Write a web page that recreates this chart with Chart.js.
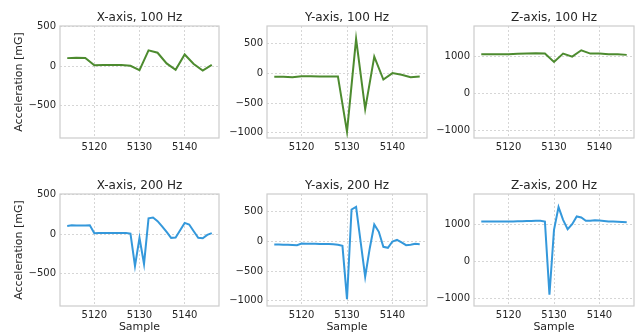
<!DOCTYPE html>
<html>
<head>
<meta charset="utf-8">
<script src="https://cdn.jsdelivr.net/npm/chart.js@4.4.0/dist/chart.umd.min.js"></script>
<style>
  body { margin: 0; background: #fff; }
  #wrap { position: relative; width: 642px; height: 336px; overflow: hidden; }
  canvas { position: absolute; }
</style>
</head>
<body>
<div id="wrap">
  <canvas id="c1"></canvas>
  <canvas id="c2"></canvas>
  <canvas id="c3"></canvas>
  <canvas id="c4"></canvas>
  <canvas id="c5"></canvas>
  <canvas id="c6"></canvas>
</div>
<script>
// sample numbers
const samples100 = [5114, 5116, 5118, 5120, 5122, 5124, 5126, 5128, 5130, 5132, 5134, 5136, 5138, 5140, 5142, 5144, 5146];
const samples200 = [5114, 5115, 5116, 5117, 5118, 5119, 5120, 5121, 5122, 5123, 5124, 5125, 5126, 5127, 5128, 5129, 5130,
                    5131, 5132, 5133, 5134, 5135, 5136, 5137, 5138, 5139, 5140, 5141, 5142, 5143, 5144, 5145, 5146];

// acceleration, mG
const x100 = [102, 106, 104, 13, 14, 15, 15, 6, -50, 200, 170, 35, -45, 148, 28, -55, 17];
const y100 = [-57, -57, -62, -45, -45, -50, -50, -50, -983, 585, -602, 284, -102, 6, -23, -62, -50];
const z100 = [1054, 1054, 1054, 1054, 1063, 1071, 1080, 1071, 848, 1071, 990, 1160, 1071, 1071, 1054, 1054, 1036];

const x200 = [105, 113, 110, 109, 109, 112, 13, 14, 15, 15, 15, 16, 16, 15, 8, -400, -46,
              -375, 200, 210, 165, 100, 29, -46, -42, 50, 143, 122, 38, -46, -50, -8, 13];
const y200 = [-50, -52, -54, -55, -58, -62, -34, -38, -40, -40, -42, -44, -44, -45, -56, -73, -975,
              540, 585, -5, -595, -118, 287, 163, -90, -107, 0, 28, -17, -62, -56, -40, -45];
const z200 = [1072, 1072, 1075, 1075, 1072, 1072, 1072, 1075, 1078, 1080, 1085, 1088, 1090, 1090, 1072, -890, 847,
              1460, 1117, 865, 1000, 1207, 1180, 1090, 1090, 1108, 1099, 1085, 1072, 1072, 1068, 1062, 1054];

const xTicks = [5120, 5130, 5140];
const xRange = [5112.4, 5147.6];
const ticksX = [-500, 0, 500];
const ticksY = [-1000, -500, 0, 500];
const ticksZ = [-1000, 0, 1000];

const green = '#4d8b2f';
const blue = '#3498db';
const txt = '#262626';

Chart.defaults.font.family = 'DejaVu Sans';
Chart.defaults.color = txt;

// box round the plot + title centred over the plot area
const frame = {
  id: 'frame',
  beforeDatasetsDraw(chart, args, opts) {
    const a = chart.chartArea, ctx = chart.ctx;
    ctx.save();
    ctx.strokeStyle = '#cccccc';
    ctx.lineWidth = 1.2;
    ctx.strokeRect(a.left, a.top, a.right - a.left, a.bottom - a.top);
    ctx.fillStyle = txt;
    ctx.font = '12px "DejaVu Sans"';
    ctx.textAlign = 'center';
    ctx.textBaseline = 'middle';
    ctx.fillText(opts.text, (a.left + a.right) / 2, a.top - 8.5);
    ctx.restore();
  }
};

function minus(v) { return String(v).replace('-', '\u2212'); }

function panel(id, pos, title, xs, ys, color, yTicks, yLim, yLabel, xLabel) {
  const el = document.getElementById(id);
  el.style.left = pos[0] + 'px';
  el.style.top = pos[1] + 'px';
  el.width = pos[2];
  el.height = pos[3];
  el.style.width = pos[2] + 'px';
  el.style.height = pos[3] + 'px';
  new Chart(el, {
    type: 'scatter',
    data: {
      datasets: [{
        data: xs.map((s, i) => ({ x: s, y: ys[i] })),
        showLine: true,
        borderColor: color,
        borderWidth: 2,
        pointRadius: 0,
        tension: 0
      }]
    },
    options: {
      responsive: false,
      animation: false,
      layout: { padding: { top: 26, right: 3 } },
      plugins: {
        legend: { display: false },
        tooltip: { enabled: false },
        frame: { text: title }
      },
      scales: {
        x: {
          type: 'linear', min: xRange[0], max: xRange[1],
          afterBuildTicks: s => { s.ticks = xTicks.map(v => ({ value: v })); },
          afterFit: s => { s.height = pos[4]; },
          grid: { color: '#cccccc', lineWidth: 0.8, drawTicks: false },
          border: { display: false, dash: [2, 2] },
          ticks: { font: { size: 10 }, padding: 3, color: txt, callback: v => v },
          title: { display: xLabel, text: 'Sample', font: { size: 11 }, padding: { top: 0, bottom: 2.4 }, color: txt }
        },
        y: {
          min: yLim[0], max: yLim[1],
          afterBuildTicks: s => { s.ticks = yTicks.map(v => ({ value: v })); },
          afterFit: s => { s.width = yLabel ? 60 : 50; },
          grid: { color: '#cccccc', lineWidth: 0.8, drawTicks: false },
          border: { display: false, dash: [2, 2] },
          ticks: { font: { size: 10 }, padding: 4, color: txt, callback: v => minus(v) },
          title: { display: yLabel, text: 'Acceleration [mG]', font: { size: 11 }, padding: { top: 13, bottom: 0 }, color: txt }
        }
      }
    },
    plugins: [frame]
  });
}

const limX = [-905, 507];
const limY = [-1090, 802];
const limZ = [-1192, 1810];

panel('c1', [0, 0, 222, 160, 22], 'X-axis, 100 Hz', samples100, x100, green, ticksX, limX, true, false);
panel('c2', [217, 0, 213, 160, 22], 'Y-axis, 100 Hz', samples100, y100, green, ticksY, limY, false, false);
panel('c3', [424, 0, 213, 160, 22], 'Z-axis, 100 Hz', samples100, z100, green, ticksZ, limZ, false, false);
panel('c4', [0, 168, 222, 168, 30], 'X-axis, 200 Hz', samples200, x200, blue, ticksX, limX, true, true);
panel('c5', [217, 168, 213, 168, 30], 'Y-axis, 200 Hz', samples200, y200, blue, ticksY, limY, false, true);
panel('c6', [424, 168, 213, 168, 30], 'Z-axis, 200 Hz', samples200, z200, blue, ticksZ, limZ, false, true);
</script>
</body>
</html>
